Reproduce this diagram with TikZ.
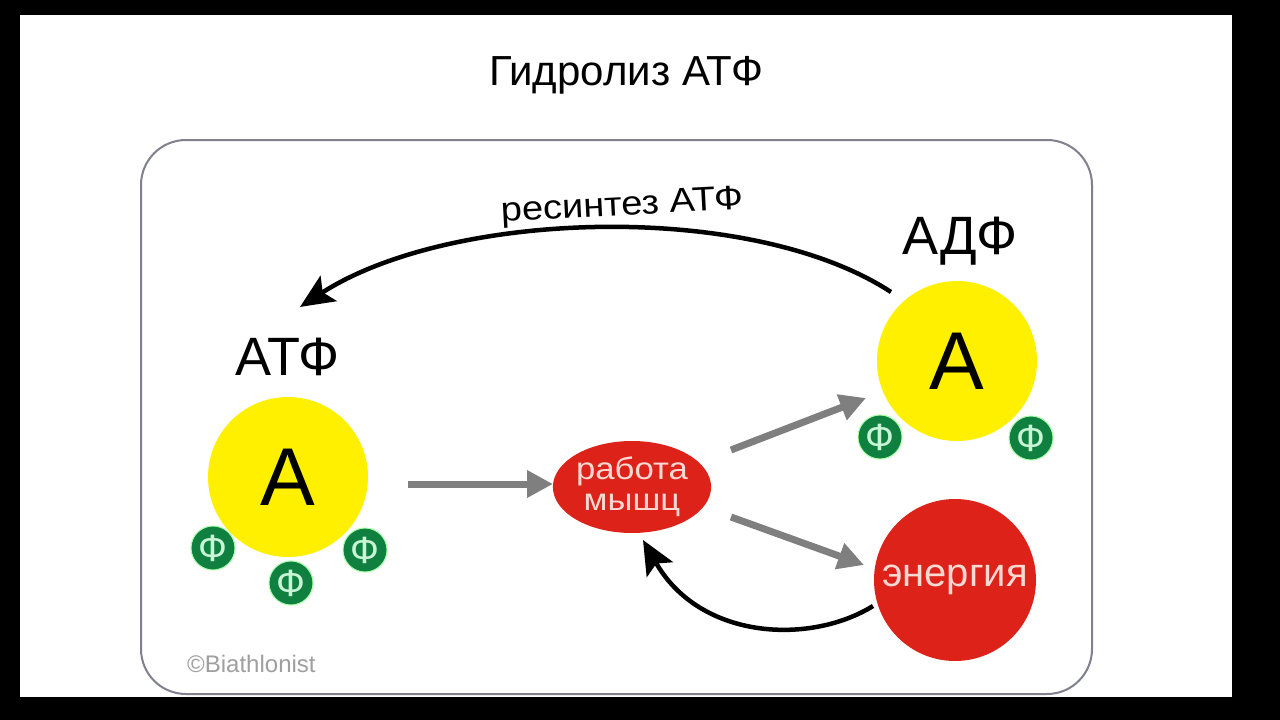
\documentclass[tikz,border=0pt]{standalone}
\usepackage{fontspec}
\setmainfont{Liberation Sans}
\usetikzlibrary{arrows.meta,shapes.geometric,calc}
\definecolor{frameg}{HTML}{80808E}
\definecolor{yel}{HTML}{FFF000}
\definecolor{redc}{HTML}{DC2219}
\definecolor{greenc}{HTML}{0F8040}
\definecolor{phitext}{HTML}{C8F5D5}
\definecolor{redtext}{HTML}{FBD8D2}
\definecolor{grayarr}{HTML}{7F7F7F}
\tikzset{
  fs/.style={font=\fontsize{#1}{#1}\selectfont},
  adenine/.style={circle,fill=yel,minimum size=160pt,inner sep=0pt,fs=82},
  phosph/.style={circle,fill=greenc,draw=green!35!white,line width=1pt,minimum size=44pt,inner sep=0pt,text=phitext,fs=38},
  molname/.style={inner sep=0pt,fs=54},
  redball/.style={fill=redc,text=redtext,inner sep=0pt},
  grayarrow/.style={draw=grayarr,line width=7pt,-{Triangle[length=26pt,width=26pt]}},
  blackarrow/.style={draw=black,line width=4.5pt,-{Stealth[length=34pt,width=30pt,inset=7pt]}},
}
\begin{document}
\begin{tikzpicture}[x=1pt,y=-1pt]
\fill[black] (0,0) rectangle (1280,720);
\fill[white] (20,15) rectangle (1232,697);
\useasboundingbox (0,0) rectangle (1280,720);
\draw[frameg,line width=2pt,rounded corners=45pt] (141,140) rectangle (1092,694);
\node[fs=42,inner sep=0pt] (title) at (626,75) {Гидролиз АТФ};

% ATP
\node[adenine] (atp) at (288,477) {А};
\node[molname] (atplabel) at (288,357) {АТФ};
\node[phosph] (p1) at (213,548) {Ф};
\node[phosph] (p2) at (291,583) {Ф};
\node[phosph] (p3) at (365,550) {Ф};

% ADP
\node[adenine] (adp) at (957,361) {А};
\node[molname] (adplabel) at (960,241) {АДФ};
\node[phosph] (p4) at (880,437) {Ф};
\node[phosph] (p5) at (1031,438) {Ф};

% work and energy
\node[redball,ellipse,minimum width=154pt,minimum height=92pt,align=center,font=\fontsize{31}{31}\selectfont] (work) at (632,487) {\scalebox{1.12}[1]{работа}\\\scalebox{1.12}[1]{мышц}};
\node[redball,circle,minimum size=162pt,fs=40] (energy) at (955,580) {энергия};

\node[text=gray!75,fs=24,inner sep=0pt,anchor=west] (copy) at (187,664) {©Biathlonist};

% connector end points
\coordinate (arcstart) at ($(adp.center)+(-66,-69)$);
\coordinate (arcend) at ($(atplabel.north)+(12,-31)$);
\coordinate (g1s) at ($(atp.center)+(120,7)$);
\coordinate (g1e) at ($(work.center)+(-79,-3)$);
\coordinate (g2s) at ($(work.center)+(99,-37)$);
\coordinate (g2e) at ($(adp.center)+(-91,37)$);
\coordinate (g3s) at ($(work.center)+(99,30)$);
\coordinate (g3e) at ($(energy.center)+(-91,-15)$);
\coordinate (bstart) at ($(energy.center)+(-82,26)$);
\coordinate (bend) at ($(work.center)+(11,53)$);

\draw[blackarrow] (arcstart) .. controls (750,200) and (450,210) .. (arcend);
\node[fs=34,inner sep=0pt,rotate=3] (resyn) at (622,207) {\scalebox{1.12}[1]{ресинтез АТФ}};
\draw[grayarrow] (g1s) -- (g1e);
\draw[grayarrow] (g2s) -- (g2e);
\draw[grayarrow] (g3s) -- (g3e);
\draw[blackarrow] (bstart) .. controls (810,645) and (700,640) .. (bend);
\end{tikzpicture}
\end{document}
